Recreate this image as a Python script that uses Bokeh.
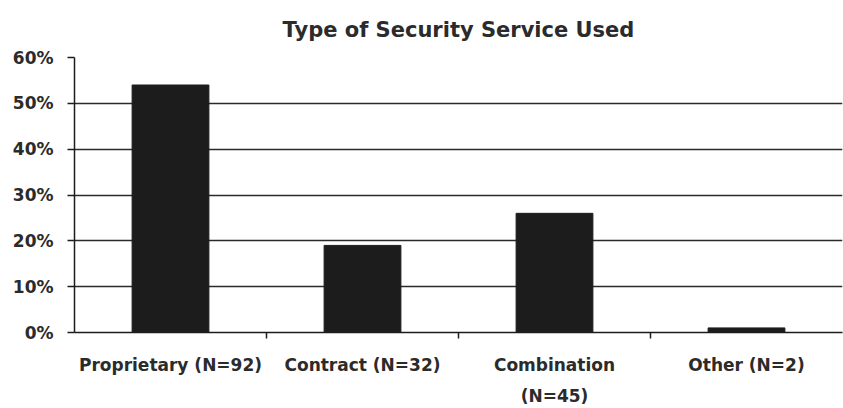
from bokeh.plotting import figure
from bokeh.models import Range1d, NumeralTickFormatter, FixedTicker
from bokeh.embed import file_html
from bokeh.resources import INLINE

# Survey results: type of security service used
title_text = "Type of Security Service Used"
categories = ["Proprietary (N=92)", "Contract (N=32)", "Combination\n(N=45)", "Other (N=2)"]
shares = [0.54, 0.19, 0.26, 0.01]
y_ticks = [0.0, 0.1, 0.2, 0.3, 0.4, 0.5, 0.6]

FONT = "DejaVu Sans"
INK = "#1c1c1c"
TEXT = "#2b2b2b"

# bars sit in the middle of unit-wide slots; slot borders carry the x ticks
centers = [i + 0.5 for i in range(len(categories))]
borders = [i for i in range(1, len(categories))]

p = figure(
    x_range=Range1d(0, len(categories)),
    y_range=Range1d(0, 0.6),
    width=843, height=408,
    min_border_left=74, min_border_right=1,
    min_border_top=57, min_border_bottom=75,
    output_backend="svg", toolbar_location=None,
    title=title_text,
)
p.outline_line_color = None
p.background_fill_color = "white"
p.border_fill_color = "white"

p.title.align = "center"
p.title.offset = -28
p.title.text_font = FONT
p.title.text_font_style = "bold"
p.title.text_font_size = "21px"
p.title.text_color = TEXT
p.title.standoff = 31

p.vbar(x=centers, top=shares, width=0.4, fill_color=INK, line_color=INK)

# y axis: percentages with ticks outside
p.yaxis.ticker = FixedTicker(ticks=y_ticks)
p.yaxis.formatter = NumeralTickFormatter(format="0%")
p.yaxis.major_label_text_font = FONT
p.yaxis.major_label_text_font_style = "bold"
p.yaxis.major_label_text_font_size = "17px"
p.yaxis.major_label_text_color = TEXT
p.yaxis.axis_line_color = INK
p.yaxis.axis_line_width = 1.5
p.yaxis.major_tick_line_color = INK
p.yaxis.major_tick_line_width = 1.5
p.yaxis.major_tick_out = 7
p.yaxis.major_tick_in = 0
p.yaxis.minor_tick_line_color = None
p.yaxis.major_label_standoff = 14

# x axis: category names at slot centres, tick marks between slots
p.xaxis.ticker = FixedTicker(ticks=centers, minor_ticks=borders)
p.xaxis.major_label_overrides = {c: name for c, name in zip(centers, categories)}
p.xaxis.major_label_text_font = FONT
p.xaxis.major_label_text_font_style = "bold"
p.xaxis.major_label_text_font_size = "17px"
p.xaxis.major_label_text_color = TEXT
p.xaxis.major_label_text_line_height = 1.55
p.xaxis.axis_line_color = INK
p.xaxis.axis_line_width = 1.5
p.xaxis.major_tick_line_color = None
p.xaxis.minor_tick_line_color = INK
p.xaxis.minor_tick_line_width = 1.5
p.xaxis.minor_tick_out = 6
p.xaxis.minor_tick_in = 0
p.xaxis.major_label_standoff = 16

p.xgrid.grid_line_color = None
p.ygrid.grid_line_color = "#2a2a2a"
p.ygrid.grid_line_width = 1.4

open("out.html", "w").write(file_html(p, INLINE))
